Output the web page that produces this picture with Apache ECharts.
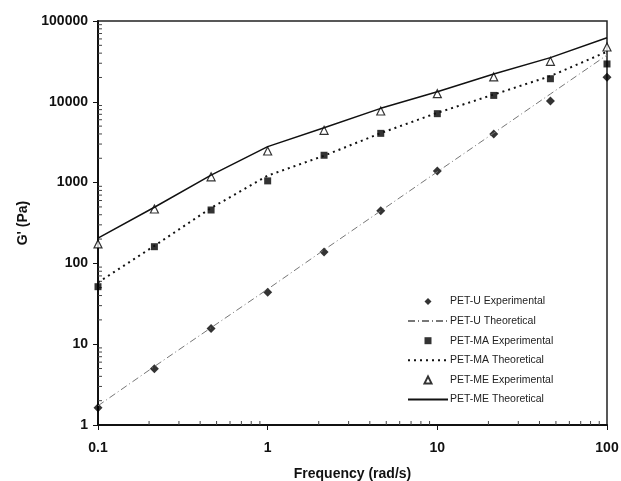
<!DOCTYPE html>
<html>
<head>
<meta charset="utf-8">
<script src="https://cdn.jsdelivr.net/npm/echarts/dist/echarts.min.js"></script>
<style>
  html, body { margin: 0; padding: 0; background: #fff; }
  #chart { width: 621px; height: 481px; }
</style>
</head>
<body>
<div id="chart"></div>
<script>
// frequency (rad/s)
const freq = [0.1, 0.215, 0.464, 1, 2.15, 4.64, 10, 21.5, 46.4, 100];

// G' (Pa)
const uExp = [1.64, 4.97, 15.6, 43.9, 138, 449, 1390, 3990, 10200, 20100];
const uTheo = [1.73, 5.3, 16, 48, 147, 447, 1360, 4100, 12500, 37900];
const maExp = [51.5, 161, 458, 1050, 2180, 4070, 7130, 12000, 19300, 29400];
const maTheo = [58, 165, 485, 1220, 2150, 4100, 7300, 12300, 20800, 41700];
const meExp = [174, 471, 1180, 2460, 4440, 7690, 12600, 20300, 31700, 47700];
const meTheo = [205, 495, 1240, 2790, 4780, 8300, 13300, 22100, 35200, 62100];

// minor tick positions
const xMinor = [0.2, 0.3, 0.4, 0.5, 0.6, 0.7, 0.8, 0.9, 2, 3, 4, 5, 6, 7, 8, 9, 20, 30, 40, 50, 60, 70, 80, 90];
const yMinor = [];
[1, 10, 100, 1000, 10000].forEach(d => {
  [2, 3, 4, 5, 6, 7, 8, 9].forEach(m => yMinor.push(d * m));
});

const pairs = (ys) => freq.map((f, i) => [f, ys[i]]);

const chart = echarts.init(document.getElementById('chart'));

const boldLabel = {
  fontFamily: 'Liberation Sans, Arial, sans-serif',
  fontWeight: 'bold',
  fontSize: 14,
  color: '#111',
};

// path icons keep their aspect inside the wide legend slot
const diamondIcon = 'path://M5,0L10,5L5,10L0,5Z';
const squareIcon = 'path://M0,0H10V10H0Z';
const triangleIcon = 'path://M5,0L10,10L0,10Z';
// line-only legend entries: hide the default centre symbol
const noSymbol = { opacity: 0 };

const option = {
  animation: false,
  backgroundColor: '#fff',
  grid: {
    left: 98,
    right: 14,
    top: 21,
    bottom: 56,
    outerBoundsMode: 'none',
    show: true,
    borderColor: '#222',
    borderWidth: 1.5,
  },
  legend: {
    data: [
      { name: 'PET-U Experimental', icon: diamondIcon },
      { name: 'PET-U Theoretical', itemStyle: noSymbol },
      { name: 'PET-MA Experimental', icon: squareIcon },
      { name: 'PET-MA Theoretical', itemStyle: noSymbol },
      { name: 'PET-ME Experimental', icon: triangleIcon },
      { name: 'PET-ME Theoretical', itemStyle: noSymbol },
    ],
    orient: 'vertical',
    left: 402,
    top: 291,
    itemWidth: 40,
    itemHeight: 7,
    itemGap: 8.6,
    symbolKeepAspect: true,
    textStyle: {
      fontFamily: 'Liberation Sans, Arial, sans-serif',
      fontSize: 10.5,
      color: '#222',
      padding: [0, 0, 0, -3],
    },
  },
  xAxis: {
    type: 'log',
    min: 0.1,
    max: 100,
    name: 'Frequency (rad/s)',
    nameLocation: 'middle',
    nameGap: 42,
    nameTextStyle: boldLabel,
    axisLine: { lineStyle: { color: '#111', width: 2 } },
    axisTick: { length: 5, lineStyle: { color: '#111', width: 1 } },
    axisLabel: Object.assign({ margin: 16, formatter: (v) => String(v) }, boldLabel),
    splitLine: { show: false },
  },
  yAxis: {
    type: 'log',
    min: 1,
    max: 100000,
    name: "G' (Pa)",
    nameLocation: 'middle',
    nameGap: 66,
    nameTextStyle: boldLabel,
    axisLine: { lineStyle: { color: '#111', width: 2 } },
    axisTick: { length: 5, lineStyle: { color: '#111', width: 1 } },
    axisLabel: Object.assign({ margin: 10, formatter: (v) => String(v) }, boldLabel),
    splitLine: { show: false },
  },
  series: [
    {
      name: 'xMinor',
      type: 'custom',
      silent: true,
      clip: false,
      data: xMinor.map(v => [v, 1]),
      renderItem: (params, api) => {
        const p = api.coord([api.value(0), 1]);
        return {
          type: 'line',
          shape: { x1: p[0], y1: p[1], x2: p[0], y2: p[1] - 4 },
          style: { stroke: '#444', lineWidth: 1 },
        };
      },
    },
    {
      name: 'yMinor',
      type: 'custom',
      silent: true,
      clip: false,
      data: yMinor.map(v => [0.1, v]),
      renderItem: (params, api) => {
        const p = api.coord([0.1, api.value(1)]);
        return {
          type: 'line',
          shape: { x1: p[0], y1: p[1], x2: p[0] + 4, y2: p[1] },
          style: { stroke: '#444', lineWidth: 1 },
        };
      },
    },
    {
      name: 'PET-U Theoretical',
      type: 'line',
      data: pairs(uTheo),
      symbol: 'none',
      lineStyle: { color: '#777', width: 1, type: [7, 3, 1, 3] },
      itemStyle: { color: '#777' },
    },
    {
      name: 'PET-MA Theoretical',
      type: 'line',
      data: pairs(maTheo),
      symbol: 'none',
      lineStyle: { color: '#111', width: 2, type: [2, 4] },
      itemStyle: { color: '#111' },
    },
    {
      name: 'PET-ME Theoretical',
      type: 'line',
      data: pairs(meTheo),
      symbol: 'none',
      lineStyle: { color: '#111', width: 1.5 },
      itemStyle: { color: '#111' },
    },
    {
      name: 'PET-U Experimental',
      type: 'scatter',
      data: pairs(uExp),
      symbol: 'diamond',
      symbolSize: 9,
      itemStyle: { color: '#000' },
    },
    {
      name: 'PET-MA Experimental',
      type: 'scatter',
      data: pairs(maExp),
      symbol: 'rect',
      symbolSize: 7,
      itemStyle: { color: '#000' },
    },
    {
      name: 'PET-ME Experimental',
      type: 'scatter',
      data: pairs(meExp),
      symbol: 'triangle',
      symbolSize: 8,
      itemStyle: { color: '#fff', borderColor: '#000', borderWidth: 1.2 },
    },
  ],
};

chart.setOption(option);
</script>
</body>
</html>
